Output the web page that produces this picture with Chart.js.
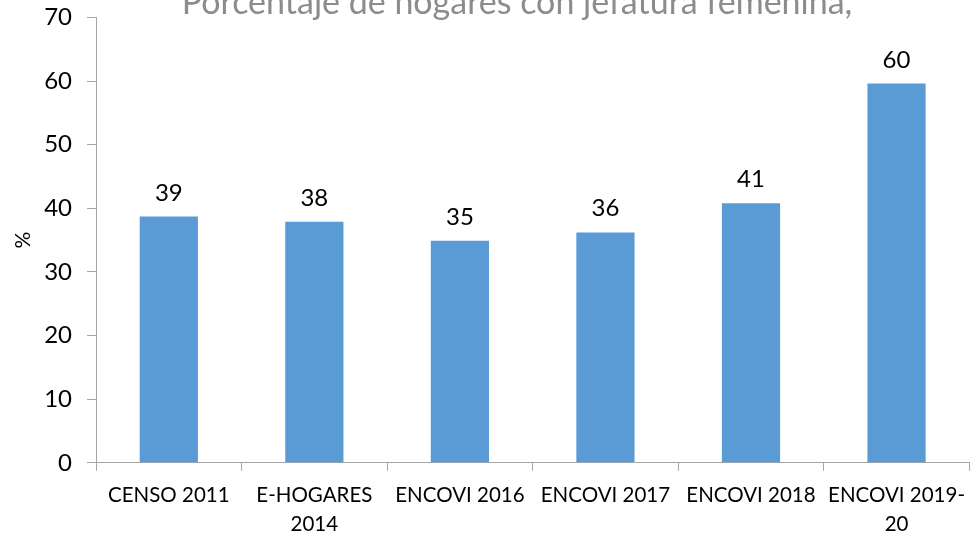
<!DOCTYPE html>
<html>
<head>
<meta charset="utf-8">
<script src="https://cdn.jsdelivr.net/npm/chart.js@4"></script>
<style>
    html, body { margin: 0; padding: 0; background: #fff; overflow: hidden; }
    /* canvas pushed up a little so the title is cut off like in the source image */
    #wrap { position: relative; top: -12px; width: 975px; height: 545px; }
</style>
</head>
<body>
<div id="wrap"><canvas id="hogaresGraph"></canvas></div>
<script>
const categories = [
    "CENSO 2011", ["E-HOGARES", "2014"], "ENCOVI 2016", "ENCOVI 2017", "ENCOVI 2018", ["ENCOVI 2019-", "20"]
];
const jefaturaFemenina = [38.7, 37.9, 34.9, 36.2, 40.8, 59.6];
const yTicks = { min: 0, max: 70, step: 10 };
const chartTitle = "Porcentaje de hogares con jefatura femenina,";

const axisGray = '#a6a6a6';
const fontFamily = 'Lato, "Open Sans", sans-serif';

const clippedTitle = {
    id: 'clippedTitle',
    afterDraw(chart) {
        const c = chart.ctx;
        c.save();
        c.font = '34px ' + fontFamily;
        c.fillStyle = '#8c8c8c';
        c.textAlign = 'center';
        c.textBaseline = 'alphabetic';
        c.fillText(chartTitle, 517, 26);
        c.restore();
    }
};

// rounded value above each bar
const valueLabels = {
    id: 'valueLabels',
    afterDatasetsDraw(chart) {
        const c = chart.ctx;
        const meta = chart.getDatasetMeta(0);
        c.save();
        c.font = '24px ' + fontFamily;
        c.fillStyle = '#000';
        c.textAlign = 'center';
        c.textBaseline = 'alphabetic';
        meta.data.forEach((bar, i) => {
            c.fillText(Math.round(jefaturaFemenina[i]), bar.x, bar.y - 16);
        });
        c.restore();
    }
};

const ctx = document.getElementById('hogaresGraph').getContext('2d');

new Chart(ctx, {
    type: 'bar',
    data: {
        labels: categories,
        datasets: [{
            label: chartTitle,
            data: jefaturaFemenina,
            backgroundColor: '#5b9bd5',
            borderWidth: 0,
            barPercentage: 0.4,
            categoryPercentage: 1
        }]
    },
    options: {
        responsive: true,
        maintainAspectRatio: false,
        animation: false,
        layout: {
            padding: { top: 0, left: 0, right: 0, bottom: -16 }
        },
        scales: {
            x: {
                grid: {
                    display: true,
                    offset: true,
                    drawOnChartArea: false,
                    drawTicks: true,
                    tickLength: 8,
                    color: axisGray
                },
                border: { color: axisGray, width: 1 },
                ticks: {
                    color: '#000',
                    padding: 10,
                    maxRotation: 0,
                    autoSkip: false,
                    font: { family: fontFamily, size: 20.5, lineHeight: 1.42 }
                }
            },
            y: {
                min: yTicks.min,
                max: yTicks.max,
                grid: {
                    display: true,
                    drawOnChartArea: false,
                    drawTicks: true,
                    tickLength: 9,
                    color: axisGray
                },
                border: { color: axisGray, width: 1 },
                ticks: {
                    stepSize: yTicks.step,
                    color: '#000',
                    padding: 15,
                    font: { family: fontFamily, size: 24 }
                },
                title: {
                    display: true,
                    text: '%',
                    color: '#000',
                    padding: { top: 11, bottom: -7 },
                    font: { family: fontFamily, size: 21, lineHeight: 1.2 }
                }
            }
        },
        plugins: {
            legend: { display: false },
            tooltip: { enabled: false }
        }
    },
    plugins: [clippedTitle, valueLabels]
});
</script>
</body>
</html>
